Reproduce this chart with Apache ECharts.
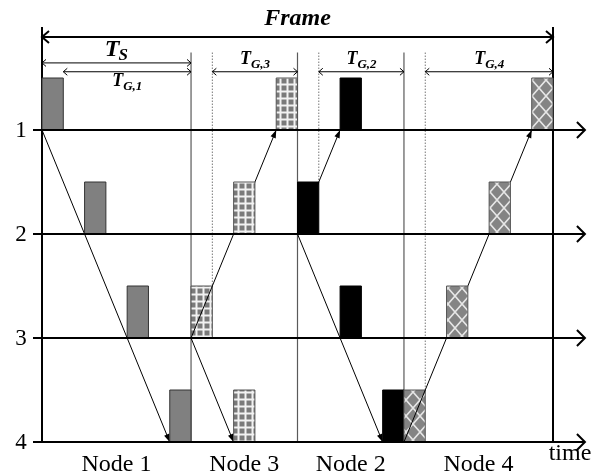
<!DOCTYPE html>
<html><head><meta charset="utf-8">
<script src="https://cdn.jsdelivr.net/npm/echarts@6/dist/echarts.min.js"></script>
<style>html,body{margin:0;padding:0;background:#fff}#c{width:602px;height:475px}</style>
</head><body><div id="c"></div>
<script>
// ---------- data ----------
const rowLabels = ['1', '2', '3', '4'];
const rowValues = [1, 2, 3, 4];
const nodeLabels = ['Node 1', 'Node 3', 'Node 2', 'Node 4'];
const nodeStart = [0, 7, 12, 17];
const nodeEnd = [7, 12, 17, 24];
const frameSpan = [0, 24];
const syncSpan = [0, 7];
// slot start time for rows 1..4
const node1Slots = [0, 2, 4, 6];
const node3Slots = [11, 9, 7, 9];
const node2Slots = [14, 12, 14, 16];
const node4Slots = [23, 21, 19, 17];
const guardLabels = ['G,1', 'G,3', 'G,2', 'G,4'];
const guardStart = [1, 8, 13, 18];
const guardEnd = [7, 12, 17, 24];
const slotLength = 1;
const slotHeight = 0.5;
const timeLabel = 'time';
const frameLabel = 'Frame';

// ---------- layout constants (axis units) ----------
const rowArrowEnd = 25.5;
const levelFrame = 0.105, levelSync = 0.355, levelGuard = 0.44, levelDivTop = 0.255, levelEdgeTop = 0.01;
const timeLabelX = 24.8;

const SERIF = "'Liberation Serif','Times New Roman',serif";
const SLOTS = [node1Slots, node3Slots, node2Slots, node4Slots];

function makeChecker() {
  const c = document.createElement('canvas'); c.width = 7; c.height = 7;
  const g = c.getContext('2d');
  g.fillStyle = '#f2f2f2'; g.fillRect(0, 0, 7, 7);
  g.fillStyle = '#7a7a7a'; g.fillRect(1.5, 1.5, 5, 5);
  return c;
}
function makeCross() {
  const c = document.createElement('canvas'); c.width = 14; c.height = 16;
  const g = c.getContext('2d');
  g.fillStyle = '#848484'; g.fillRect(0, 0, 14, 16);
  g.strokeStyle = '#e6e6e6'; g.lineWidth = 1.6;
  g.beginPath(); g.moveTo(0, 0); g.lineTo(14, 16); g.moveTo(14, 0); g.lineTo(0, 16); g.stroke();
  return c;
}
const fills = ['#808080', { image: makeChecker(), repeat: 'repeat' }, '#000000', { image: makeCross(), repeat: 'repeat' }];
const strokes = ['#333333', '#555555', '#000000', '#555555'];

function seg(a, b, style) { return { type: 'line', shape: { x1: a[0], y1: a[1], x2: b[0], y2: b[1] }, style: style }; }
function chevron(tip, dx, dy, len, half, lw) {
  const bx = tip[0] - dx * len, by = tip[1] - dy * len, nx = -dy, ny = dx;
  return { type: 'polyline', shape: { points: [[bx + nx * half, by + ny * half], tip, [bx - nx * half, by - ny * half]] },
    style: { stroke: '#000', lineWidth: lw, fill: null } };
}
function triangle(from, tip, len, half) {
  const L = Math.hypot(tip[0] - from[0], tip[1] - from[1]);
  const dx = (tip[0] - from[0]) / L, dy = (tip[1] - from[1]) / L;
  const bx = tip[0] - dx * len, by = tip[1] - dy * len, nx = -dy, ny = dx;
  return { type: 'polygon', shape: { points: [tip, [bx + nx * half, by + ny * half], [bx - nx * half, by - ny * half]] },
    style: { fill: '#000' } };
}
function txt(x, y, text, font, align) {
  return { type: 'text', x: x, y: y, style: { text: text, font: font, fill: '#000', align: align || 'center', verticalAlign: 'middle' } };
}

// boxes
const boxData = [];
SLOTS.forEach((slots, k) => slots.forEach((t, r) => boxData.push([t, rowValues[r], k])));

// link lines derived from the slots
const linkData = [];   // [x1, y1, x2, y2]
const srcData = [];    // [x, row] source box diagonals
SLOTS.forEach((slots) => {
  let src = 0;
  slots.forEach((t, r) => { if (t < slots[src]) src = r; });
  const sx = slots[src], sr = rowValues[src];
  if (src < rowValues.length - 1) linkData.push([sx, sr, slots[rowValues.length - 1], rowValues[rowValues.length - 1]]);
  if (src > 0) { linkData.push([sx, sr, slots[0], rowValues[0]]); srcData.push([sx, sr]); }
});

// dotted guard markers: end at top of source box
const dottedData = [];
SLOTS.forEach((slots, k) => {
  if (k === 0) return;
  let src = 0;
  slots.forEach((t, r) => { if (t < slots[src]) src = r; });
  dottedData.push([guardStart[k], rowValues[src] - slotHeight]);
});

const chart = echarts.init(document.getElementById('c'), null, { renderer: 'canvas' });
chart.setOption({
  animation: false,
  backgroundColor: '#ffffff',
  grid: { left: 42, right: 49, top: 26, bottom: 33 },
  xAxis: { type: 'value', min: 0, max: 24, show: false },
  yAxis: { type: 'value', min: 0, max: 4, inverse: true, show: false },
  series: [
    { // node dividers (solid gray)
      type: 'custom', z: 1, clip: false,
      data: nodeStart.slice(1).map(x => [x, 4]),
      renderItem: (p, api) => seg(api.coord([api.value(0), levelDivTop]), api.coord([api.value(0), api.value(1)]),
        { stroke: '#5a5a5a', lineWidth: 1.2 })
    },
    { // dotted guard markers
      type: 'custom', z: 1, clip: false,
      data: dottedData,
      renderItem: (p, api) => seg(api.coord([api.value(0), levelDivTop]), api.coord([api.value(0), api.value(1)]),
        { stroke: '#777', lineWidth: 1, lineDash: [1.5, 1.5] })
    },
    { // frame edges
      type: 'custom', z: 1, clip: false,
      data: frameSpan.map(x => [x, 4]),
      renderItem: (p, api) => seg(api.coord([api.value(0), levelEdgeTop]), api.coord([api.value(0), api.value(1)]),
        { stroke: '#000', lineWidth: 2 })
    },
    { // link lines (under boxes)
      type: 'custom', z: 2, clip: false,
      data: linkData,
      renderItem: (p, api) => {
        const a = api.coord([api.value(0), api.value(1)]), b = api.coord([api.value(2), api.value(3)]);
        return { type: 'group', children: [seg(a, b, { stroke: '#000', lineWidth: 1 }), triangle(a, b, 8, 2.8)] };
      }
    },
    { // slot boxes
      type: 'custom', z: 3, clip: false,
      data: boxData,
      renderItem: (p, api) => {
        const x = api.value(0), row = api.value(1), k = api.value(2);
        const p0 = api.coord([x, row - slotHeight]), p1 = api.coord([x + slotLength, row]);
        return { type: 'rect', shape: { x: p0[0], y: p0[1], width: p1[0] - p0[0], height: p1[1] - p0[1] },
          style: { fill: fills[k], stroke: strokes[k], lineWidth: 1 } };
      }
    },
    { // diagonal through the source box (on top)
      type: 'custom', z: 4, clip: false,
      data: srcData,
      renderItem: (p, api) => seg(api.coord([api.value(0), api.value(1)]),
        api.coord([api.value(0) + slotLength, api.value(1) - slotHeight]), { stroke: '#000', lineWidth: 1 })
    },
    { // row lines with arrows and labels
      type: 'custom', z: 5, clip: false,
      data: rowValues.map(v => [0, v]),
      renderItem: (p, api) => {
        const v = api.value(1), a = api.coord([0, v]), e = api.coord([rowArrowEnd, v]);
        return { type: 'group', children: [
          seg([a[0] - 9, a[1]], e, { stroke: '#000', lineWidth: 2 }),
          chevron(e, 1, 0, 8, 8, 2),
          txt(a[0] - 21, a[1] + 1, rowLabels[p.dataIndex], '23px ' + SERIF)
        ] };
      }
    },
    { // frame / sync / guard spans
      type: 'custom', z: 5, clip: false,
      data: [0].concat(guardStart.map((g, i) => i + 1)).concat([99]).map(i => [i, 0]),
      renderItem: (p, api) => {
        const i = p.dataIndex;
        const BI = 'italic bold ';
        if (i === 0) {
          const a = api.coord([frameSpan[0], levelFrame]), b = api.coord([frameSpan[1], levelFrame]);
          return { type: 'group', children: [
            seg(a, b, { stroke: '#000', lineWidth: 2 }),
            chevron(a, -1, 0, 7, 6, 2), chevron(b, 1, 0, 7, 6, 2),
            txt((a[0] + b[0]) / 2, a[1] - 18, frameLabel, BI + '24px ' + SERIF)
          ] };
        }
        if (i === guardStart.length + 1) {
          const a = api.coord([syncSpan[0], levelSync]), b = api.coord([syncSpan[1], levelSync]);
          const cx = (a[0] + b[0]) / 2;
          return { type: 'group', children: [
            seg(a, b, { stroke: '#000', lineWidth: 1 }),
            chevron(a, -1, 0, 4, 3.5, 1), chevron(b, 1, 0, 4, 3.5, 1),
            txt(cx + 3, a[1] - 13, 'T', BI + '24px ' + SERIF, 'right'),
            txt(cx + 2, a[1] - 7, 'S', BI + '17px ' + SERIF, 'left')
          ] };
        }
        const k = i - 1;
        const a = api.coord([guardStart[k], levelGuard]), b = api.coord([guardEnd[k], levelGuard]);
        const cx = (a[0] + b[0]) / 2;
        const below = k === 0;
        const ty = below ? a[1] + 10 : a[1] - 12, sy = below ? a[1] + 15 : a[1] - 7;
        return { type: 'group', children: [
          seg(a, b, { stroke: '#000', lineWidth: 1 }),
          chevron(a, -1, 0, 4, 3.5, 1), chevron(b, 1, 0, 4, 3.5, 1),
          txt(cx - 4, ty, 'T', BI + '18px ' + SERIF, 'right'),
          txt(cx - 4, sy, guardLabels[k], BI + '13px ' + SERIF, 'left')
        ] };
      }
    },
    { // node labels
      type: 'custom', z: 5, clip: false,
      data: nodeStart.map((s, i) => [(s + nodeEnd[i]) / 2, 4]),
      renderItem: (p, api) => {
        const c = api.coord([api.value(0), api.value(1)]);
        return txt(c[0], c[1] + 23, nodeLabels[p.dataIndex], '24px ' + SERIF);
      }
    },
    { // time label
      type: 'custom', z: 5, clip: false,
      data: [[timeLabelX, 4]],
      renderItem: (p, api) => {
        const c = api.coord([api.value(0), api.value(1)]);
        return txt(c[0], c[1] + 12, timeLabel, '24px ' + SERIF);
      }
    }
  ]
});
</script>
</body></html>
